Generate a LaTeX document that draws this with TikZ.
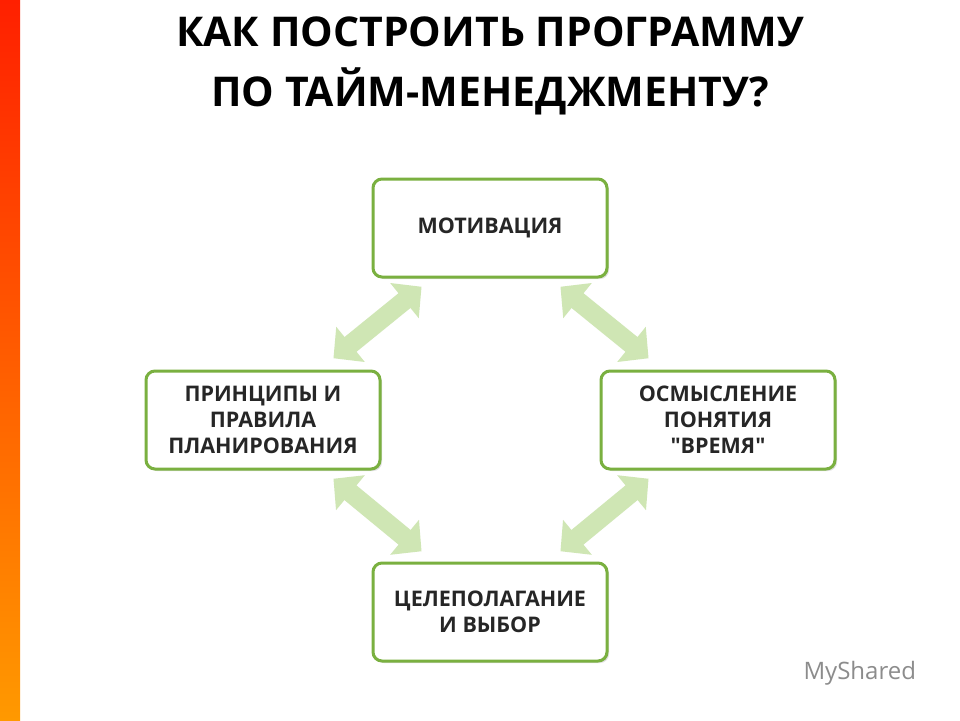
\documentclass[tikz,border=0pt]{standalone}
\usepackage{fontspec}
\setmainfont{Open Sans}[Ligatures=TeXOff]
\usetikzlibrary{arrows.meta,shadows}
\definecolor{gb}{HTML}{7AB040}
\definecolor{ga}{HTML}{CFE6B4}
\begin{document}
\begin{tikzpicture}[x=1pt,y=-1pt,
 box/.style={draw=gb,line width=3pt,rounded corners=9pt,fill=white,minimum width=234pt,minimum height=98pt,align=center,font=\fontsize{21.5}{26}\selectfont\bfseries,text=black!85,drop shadow={shadow xshift=2pt,shadow yshift=-2pt,opacity=0.25}},
 fat/.style={draw=ga,line width=19pt,{Triangle[length=22pt,width=44pt]}-{Triangle[length=22pt,width=44pt]},shorten <=-2pt,shorten >=-2pt}]
\useasboundingbox (0,0) rectangle (960,720);
\fill[white] (0,0) rectangle (960,720);
\shade[top color=red!75!orange, bottom color=orange!80!yellow] (0,0) rectangle (20,720);
\node[font=\fontsize{41}{60}\selectfont\bfseries,align=center,text=black] (t) at (490,66) {КАК ПОСТРОИТЬ ПРОГРАММУ\\ПО ТАЙМ-МЕНЕДЖМЕНТУ?};
\node[box] (m) at (490,228) {МОТИВАЦИЯ};
\node[box] (p) at (263,420) {ПРИНЦИПЫ И\\ПРАВИЛА\\ПЛАНИРОВАНИЯ};
\node[box] (o) at (718,420) {ОСМЫСЛЕНИЕ\\ПОНЯТИЯ\\"ВРЕМЯ"};
\node[box] (c) at (490,612) {ЦЕЛЕПОЛАГАНИЕ\\И ВЫБОР};
\coordinate (a1) at (420,288); \coordinate (a2) at (335,357);
\coordinate (b1) at (562,288); \coordinate (b2) at (647,357);
\coordinate (c1) at (335,480); \coordinate (c2) at (420,550);
\coordinate (d1) at (647,480); \coordinate (d2) at (562,550);
\draw[fat] (a1) -- (a2);
\draw[fat] (b1) -- (b2);
\draw[fat] (c1) -- (c2);
\draw[fat] (d1) -- (d2);
\node[font=\fontsize{24}{28}\selectfont,text=black!45,anchor=west] (ms) at (800,673) {MyShared};
\end{tikzpicture}
\end{document}
